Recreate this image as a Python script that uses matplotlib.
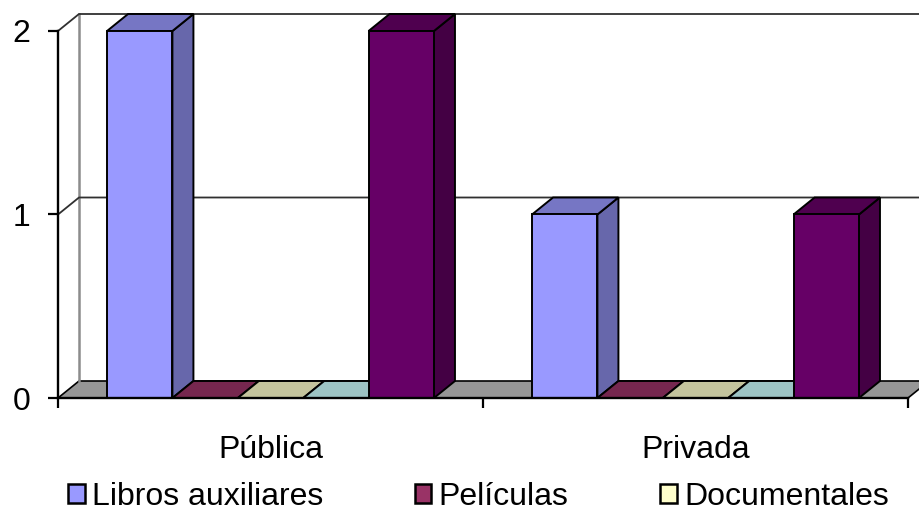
"""
Columnas 3D estilo Excel: recursos por tipo de institución (Pública / Privada).
"""
import matplotlib
matplotlib.use("Agg")
import matplotlib.pyplot as plt
from matplotlib.patches import Polygon, Rectangle
from matplotlib.colors import to_rgb

plt.rcParams["font.family"] = ["Liberation Sans", "DejaVu Sans"]

# ------------------------------------------------------------------
# Data
# ------------------------------------------------------------------
CATEGORIES = ["Pública", "Privada"]

LIBROS = [2, 1]
PELICULAS = [0, 0]
DOCUMENTALES = [0, 0]
SERIE_4 = [0, 0]
SERIE_5 = [2, 1]

SERIES_VALUES = [LIBROS, PELICULAS, DOCUMENTALES, SERIE_4, SERIE_5]
SERIES_COLORS = ["#9999FF", "#993366", "#FFFFCC", "#CCFFFF", "#660066"]
LEGEND_LABELS = ["Libros auxiliares", "Películas", "Documentales"]

Y_TICKS = [0, 1, 2]

# depth of the fake 3D box (x in category units, y in value units)
DX = 21 / 425
DY = 17 / 183.5
BAR_W = 1 / 6.5
GAP = 0.75 * BAR_W


def shade(color, f):
    return tuple(c * f for c in to_rgb(color))


def draw_bar(ax, x0, h, color, z):
    kw = dict(ec="black", lw=1.4, clip_on=False, zorder=z, joinstyle="miter")
    ax.add_patch(Polygon([(x0 + BAR_W, 0), (x0 + BAR_W + DX, DY),
                          (x0 + BAR_W + DX, h + DY), (x0 + BAR_W, h)],
                         fc=shade(color, 0.67), **kw))
    ax.add_patch(Polygon([(x0, h), (x0 + BAR_W, h),
                          (x0 + BAR_W + DX, h + DY), (x0 + DX, h + DY)],
                         fc=shade(color, 0.77), **kw))
    ax.add_patch(Rectangle((x0, 0), BAR_W, h, fc=color, **kw))


def plot():
    fig = plt.figure(figsize=(9.2, 5.13), dpi=100)
    ax = fig.add_axes([58 / 920, 115 / 513, 850 / 920, 367 / 513])
    n = len(CATEGORIES)
    ax.set_xlim(0, n)
    ax.set_ylim(0, max(Y_TICKS))

    # walls and floor
    ax.add_patch(Polygon([(0, 0), (n, 0), (n + DX, DY), (DX, DY)],
                         fc="#969696", ec="black", lw=1.2, clip_on=False, zorder=1))
    ax.plot([DX, DX], [DY, max(Y_TICKS) + DY], color="#8c8c8c", lw=1.8,
            clip_on=False, zorder=1)
    for yv in Y_TICKS[1:]:
        ax.plot([0, DX, n + DX], [yv, yv + DY, yv + DY], color="#303030",
                lw=1.3, clip_on=False, zorder=1)

    # bars, left to right so the nearer faces cover the sides
    z = 3
    for i in range(n):
        for j, (vals, col) in enumerate(zip(SERIES_VALUES, SERIES_COLORS)):
            x0 = i + GAP + j * BAR_W
            draw_bar(ax, x0, vals[i], col, z)
            z += 0.01

    # axes
    for s in ["top", "right"]:
        ax.spines[s].set_visible(False)
    for s in ["left", "bottom"]:
        ax.spines[s].set_linewidth(1.7)
        ax.spines[s].set_zorder(10)
    ax.set_yticks(Y_TICKS)
    ax.set_yticklabels([str(v) for v in Y_TICKS], fontsize=23)
    ax.tick_params(axis="y", direction="out", length=7, width=1.6, pad=13)
    ax.set_xticks(range(n + 1))
    ax.set_xticklabels([])
    ax.set_xticks([i + 0.5 for i in range(n)], minor=True)
    ax.set_xticklabels(CATEGORIES, minor=True, fontsize=23)
    ax.tick_params(axis="x", which="major", direction="out", length=7, width=1.6)
    ax.tick_params(axis="x", which="minor", length=0, pad=27)

    handles = [Rectangle((0, 0), 1, 1, fc=c, ec="black", lw=1.8)
               for c in SERIES_COLORS[:len(LEGEND_LABELS)]]
    fig.legend(handles, LEGEND_LABELS, loc="center left",
               bbox_to_anchor=(68 / 920, 16 / 513), ncol=3, frameon=False,
               fontsize=23, handlelength=0.52, handleheight=0.55,
               handletextpad=0.22, columnspacing=2.88, borderpad=0,
               borderaxespad=0)

    fig.savefig("out.png", dpi=100)
    plt.close(fig)


if __name__ == "__main__":
    plot()
